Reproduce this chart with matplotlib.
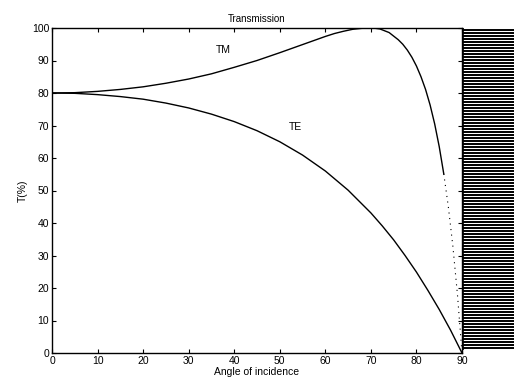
import numpy as np
import matplotlib
matplotlib.use("Agg")
import matplotlib.pyplot as plt

# Values (angle in degrees, transmission in %)
tm_angle = [0, 5, 10, 15, 20, 25, 30, 35, 40, 45, 50, 55, 58, 60, 62, 64, 66,
            68, 69, 70, 71, 72, 74, 75, 76, 77, 78, 79, 80, 81, 82, 83, 84,
            85, 86]
tm_trans = [80.0, 80.1, 80.5, 81.1, 81.9, 83.0, 84.3, 85.9, 87.9, 90.0, 92.4,
            94.9, 96.4, 97.4, 98.3, 99.0, 99.6, 99.9, 100.0, 100.0, 99.9,
            99.7, 98.6, 97.5, 96.4, 95.0, 93.2, 91.0, 88.3, 85.0, 81.1, 76.3,
            70.5, 63.5, 55.1]
# steep tail of TM, only faintly visible (dotted) in the reference
tm_tail_angle = [86, 87, 88, 89, 90]
tm_tail_trans = [55.1, 45.0, 32.8, 18.0, 0.0]

te_angle = [0, 5, 10, 15, 20, 25, 30, 35, 40, 45, 50, 55, 60, 65, 70, 72.5,
            75, 77.5, 80, 82.5, 85, 87.5, 90]
te_trans = [80.0, 79.9, 79.5, 78.9, 78.1, 76.9, 75.4, 73.5, 71.2, 68.4, 65.0,
            60.9, 56.0, 50.1, 43.1, 39.1, 34.8, 30.0, 24.9, 19.3, 13.4, 7.0,
            0.0]

x_ticks = list(range(0, 91, 10))
y_ticks = list(range(0, 101, 10))

plt.rcParams.update({"font.family": ["Liberation Sans", "DejaVu Sans"],
                     "font.size": 7})

fig = plt.figure(figsize=(5.14, 3.89), dpi=100)
ax = fig.add_axes([52 / 514, 36 / 389, 410 / 514, 325 / 389])

ax.plot(tm_angle, tm_trans, color="black", lw=1.0)
ax.plot(tm_tail_angle, tm_tail_trans, color="black", lw=0.8, ls=(0, (1, 4)))
ax.plot(te_angle, te_trans, color="black", lw=1.0)

ax.text(37.5, 93.2, "TM", ha="center", va="center", fontsize=7.5)
ax.text(53.4, 69.5, "TE", ha="center", va="center", fontsize=7.5)

ax.set_xlim(0, 90)
ax.set_ylim(0, 100)
ax.set_xticks(x_ticks)
ax.set_yticks(y_ticks)
ax.tick_params(direction="in", length=3, width=0.8, top=True, right=True,
               labelsize=7.5, pad=2)
for s in ax.spines.values():
    s.set_linewidth(1.0)

ax.set_title("Transmission", fontsize=7, pad=4)
ax.set_xlabel("Angle of incidence", fontsize=7.5, labelpad=1)
ax.set_ylabel("T(%)", fontsize=7.5, labelpad=3)

# striped block to the right of the plot
ax2 = fig.add_axes([462 / 514, 39 / 389, 52 / 514, 322 / 389])
ax2.set_xlim(0, 1)
ax2.set_ylim(0, 107)
ax2.hlines(np.arange(0.5, 107, 1.0), 0, 1, color="black", lw=1.4)
ax2.axvline(0.01, color="black", lw=1.2)
ax2.axis("off")

fig.savefig("out.png", dpi=100)
